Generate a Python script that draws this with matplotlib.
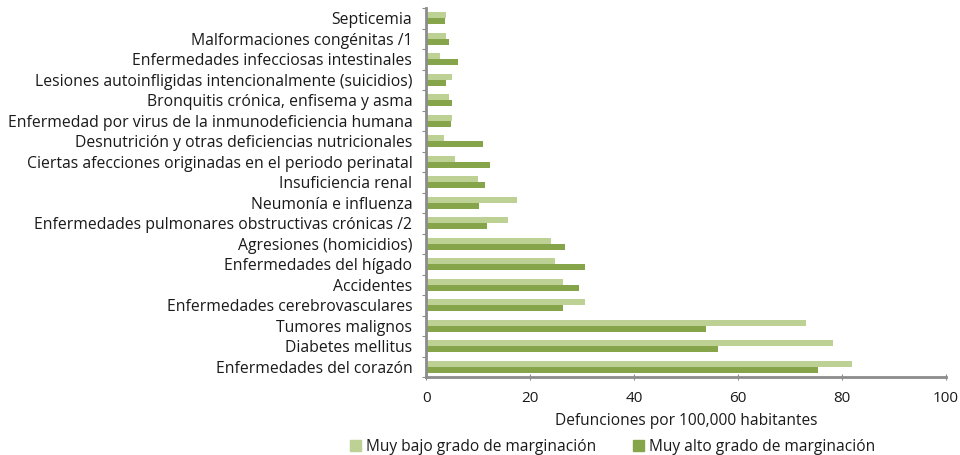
import numpy as np
import matplotlib
matplotlib.use('Agg')
import matplotlib.pyplot as plt
from matplotlib.patches import Patch

# Causas de muerte, de abajo hacia arriba
causas = [
    'Enfermedades del corazón',
    'Diabetes mellitus',
    'Tumores malignos',
    'Enfermedades cerebrovasculares',
    'Accidentes',
    'Enfermedades del hígado',
    'Agresiones (homicidios)',
    'Enfermedades pulmonares obstructivas crónicas /2',
    'Neumonía e influenza',
    'Insuficiencia renal',
    'Ciertas afecciones originadas en el periodo perinatal',
    'Desnutrición y otras deficiencias nutricionales',
    'Enfermedad por virus de la inmunodeficiencia humana',
    'Bronquitis crónica, enfisema y asma',
    'Lesiones autoinfligidas intencionalmente (suicidios)',
    'Enfermedades infecciosas intestinales',
    'Malformaciones congénitas /1',
    'Septicemia',
]
muy_bajo = [81.9, 78.4, 73.2, 30.6, 26.3, 24.8, 24.0, 15.8, 17.4, 9.9,
            5.6, 3.5, 5.0, 4.3, 5.0, 2.7, 3.9, 3.9]
muy_alto = [75.4, 56.2, 53.9, 26.3, 29.4, 30.5, 26.7, 11.7, 10.2, 11.4,
            12.2, 10.9, 4.7, 4.9, 3.9, 6.2, 4.3, 3.6]

serie_bajo = 'Muy bajo grado de marginación'
serie_alto = 'Muy alto grado de marginación'
ticks_x = [0, 20, 40, 60, 80, 100]

color_bajo = '#bcd193'
color_alto = '#86a44a'
texto = '#1a1a1a'

plt.rcParams['font.family'] = ['Open Sans', 'DejaVu Sans']

fig = plt.figure(figsize=(9.6, 4.55), dpi=100)
ax = fig.add_axes([0.444, 0.171, 0.541, 0.811])

y = np.arange(len(causas))
h = 0.29
ax.barh(y + h / 2, muy_bajo, height=h, color=color_bajo, label=serie_bajo)
ax.barh(y - h / 2, muy_alto, height=h, color=color_alto, label=serie_alto)

ax.set_ylim(-0.5, len(causas) - 0.5)
ax.set_xlim(0, 100)
ax.set_yticks(y)
ax.set_yticklabels(causas, fontsize=11.3, color=texto)
ax.tick_params(axis='y', length=0, pad=10)
# marcas pequeñas entre categorías, como en el original
ax.set_yticks(np.arange(len(causas) + 1) - 0.5, minor=True)
ax.tick_params(axis='y', which='minor', length=3, color='#8c8c8c', width=0.8)
ax.set_xticks(ticks_x)
ax.tick_params(axis='x', labelsize=11, colors='#8c8c8c', labelcolor=texto,
               length=4, direction='inout', pad=8)

for s in ['top', 'right']:
    ax.spines[s].set_visible(False)
for s in ['left', 'bottom']:
    ax.spines[s].set_color('#8c8c8c')
    ax.spines[s].set_linewidth(2)

ax.set_xlabel('Defunciones por 100,000 habitantes', fontsize=11.2,
              color=texto, labelpad=5)

handles = [Patch(color=color_bajo), Patch(color=color_alto)]
fig.legend(handles, [serie_bajo, serie_alto], loc='center',
           bbox_to_anchor=(0.638, 0.018), ncol=2, frameon=False,
           fontsize=11.2, handlelength=0.7, handleheight=0.7,
           handletextpad=0.3, columnspacing=2.4, labelcolor=texto)

fig.savefig('out.png', dpi=100)
